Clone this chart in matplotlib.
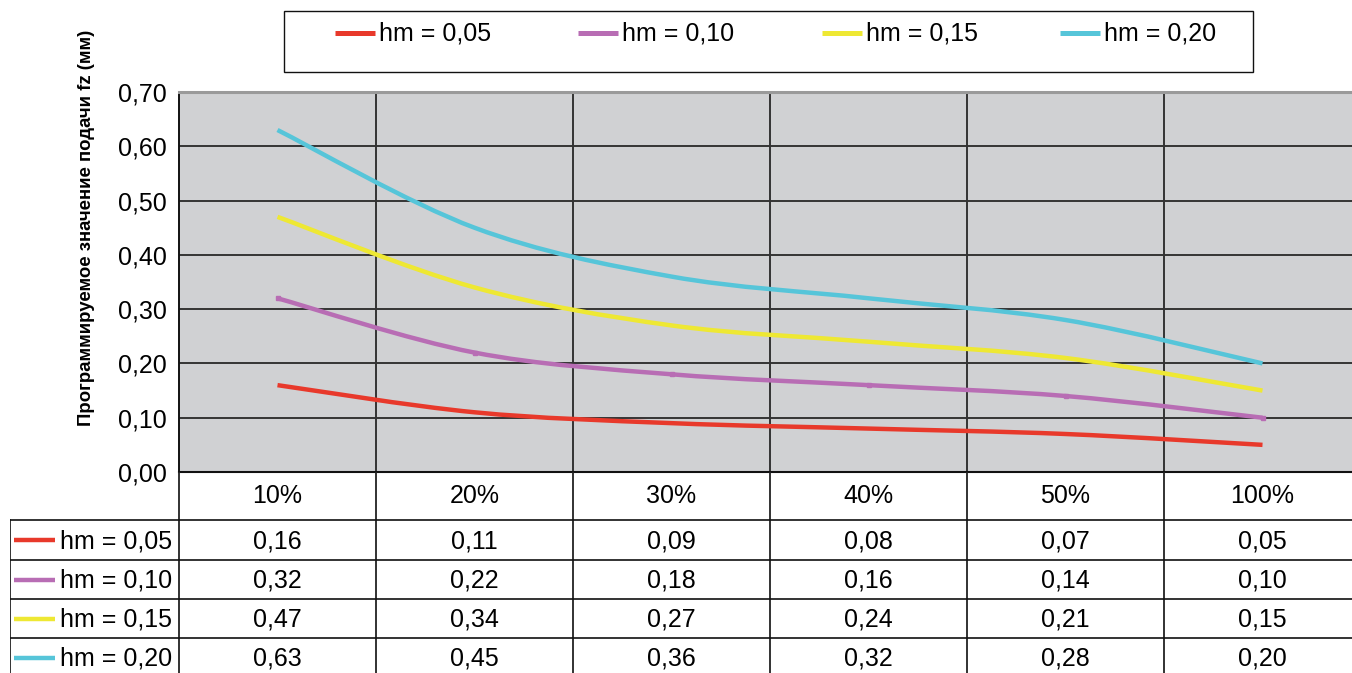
import matplotlib
matplotlib.use('Agg')
import matplotlib.pyplot as plt
from matplotlib.path import Path
from matplotlib.patches import PathPatch, Rectangle
from matplotlib.lines import Line2D
import numpy as np

plt.rcParams['font.family'] = ['Liberation Sans', 'DejaVu Sans']

# ---------------- data ----------------
categories = ['10%', '20%', '30%', '40%', '50%', '100%']
series_labels = ['hm = 0,05', 'hm = 0,10', 'hm = 0,15', 'hm = 0,20']
hm005 = [0.16, 0.11, 0.09, 0.08, 0.07, 0.05]
hm010 = [0.32, 0.22, 0.18, 0.16, 0.14, 0.10]
hm015 = [0.47, 0.34, 0.27, 0.24, 0.21, 0.15]
hm020 = [0.63, 0.45, 0.36, 0.32, 0.28, 0.20]
series = [hm005, hm010, hm015, hm020]
colors = ['#E8392B', '#B86DB4', '#EEE833', '#56C5D9']
y_ticks = [0.0, 0.1, 0.2, 0.3, 0.4, 0.5, 0.6, 0.7]
y_label = 'Программируемое значение подачи fz (мм)'

W, H = 1352, 673
FS = 18

def fmt(v):
    return f'{v:.2f}'.replace('.', ',')

fig = plt.figure(figsize=(W / 100, H / 100), dpi=100)
fig.patch.set_facecolor('white')

# ---------------- main plot ----------------
L, R, T, B = 179, 1361, 92, 472
ax = fig.add_axes([L / W, 1 - B / H, (R - L) / W, (B - T) / H])
ax.set_facecolor('#D0D1D3')
ax.set_xlim(-0.5, 5.5)
ax.set_ylim(0, 0.7)
ax.set_yticks(y_ticks)
ax.set_yticklabels([fmt(v) for v in y_ticks], fontsize=FS)
ax.set_xticks([])
ax.tick_params(axis='y', length=0, pad=9)
for y in y_ticks[1:-1]:
    ax.axhline(y, color='#1a1a1a', lw=1.2, zorder=1)
for k in range(5):
    ax.axvline(k + 0.5, color='#333333', lw=1.4, zorder=1)
ax.spines['left'].set_color('#111111')
ax.spines['left'].set_linewidth(1.4)
ax.spines['bottom'].set_color('#111111')
ax.spines['bottom'].set_linewidth(1.5)
ax.spines['top'].set_color('#9a9a9a')
ax.spines['top'].set_linewidth(2.2)
ax.spines['right'].set_visible(False)
ax.set_ylabel(y_label, fontsize=13.4, fontweight='bold')
ax.yaxis.set_label_coords((95 - L) / (R - L), (B - 228) / (B - T))


def smooth_path(xs, ys):
    pts = np.column_stack([xs, ys]).astype(float)
    n = len(pts)
    verts = [pts[0]]
    codes = [Path.MOVETO]
    for i in range(n - 1):
        p0 = pts[i - 1] if i > 0 else pts[i]
        p1 = pts[i]
        p2 = pts[i + 1]
        p3 = pts[i + 2] if i + 2 < n else pts[i + 1]
        c1 = p1 + (p2 - p0) / 6.0
        c2 = p2 - (p3 - p1) / 6.0
        verts += [c1, c2, p2]
        codes += [Path.CURVE4] * 3
    return Path(verts, codes)

xs = np.arange(len(categories))
for vals, col, lab in zip(series, colors, series_labels):
    patch = PathPatch(smooth_path(xs, vals), facecolor='none', edgecolor=col,
                      lw=3.2, capstyle='butt', joinstyle='round', zorder=3)
    ax.add_patch(patch)
ax.plot(xs, hm010, linestyle='none', marker='s', markersize=3.5,
        color=colors[1], zorder=4)

# ---------------- legend (top box) ----------------
fig.add_artist(Rectangle((284 / W, 1 - 72 / H), (1253 - 284) / W, (72 - 11) / H,
                         transform=fig.transFigure, facecolor='white',
                         edgecolor='#111111', lw=1.0))
leg_x = [335, 578, 822, 1060]
for x0, col, lab in zip(leg_x, colors, series_labels):
    fig.add_artist(Line2D([x0 / W, (x0 + 40) / W], [1 - 33 / H, 1 - 33 / H],
                          transform=fig.transFigure, color=col, lw=3.6,
                          solid_capstyle='butt'))
    fig.text((x0 + 44) / W, 1 - 34 / H, lab, fontsize=FS, ha='left', va='center')

# ---------------- data table ----------------
TL, TB = 10, 677
ppu = (R - L) / 6.0
tab = fig.add_axes([TL / W, 1 - TB / H, (R - TL) / W, (TB - B) / H])
x_left = -0.5 - (L - TL) / ppu
tab.set_xlim(x_left, 5.5)
tab.set_ylim(TB, B)
tab.axis('off')

def px2x(px):
    return -0.5 + (px - L) / ppu

row_edges = [520, 560, 599, 638, 677]
for k in range(6):
    tab.plot([k - 0.5, k - 0.5], [B, TB], color='#222222', lw=1.3)
tab.plot([x_left + 0.002, x_left + 0.002], [520, TB], color='#222222', lw=1.3)
for yy in row_edges[:-1]:
    tab.plot([x_left, 5.5], [yy, yy], color='#111111', lw=1.2)

for k, c in enumerate(categories):
    tab.text(k, 496, c, fontsize=FS, ha='center', va='center')

for r, (vals, col, lab) in enumerate(zip(series, colors, series_labels)):
    yc = (row_edges[r] + row_edges[r + 1]) / 2.0
    tab.plot([px2x(14), px2x(55)], [yc, yc], color=col, lw=3.2,
             solid_capstyle='butt')
    tab.text(px2x(60), yc + 1, lab, fontsize=FS, ha='left', va='center')
    for k, v in enumerate(vals):
        tab.text(k, yc + 1, fmt(v), fontsize=FS, ha='center', va='center')

fig.savefig('out.png', dpi=100)
